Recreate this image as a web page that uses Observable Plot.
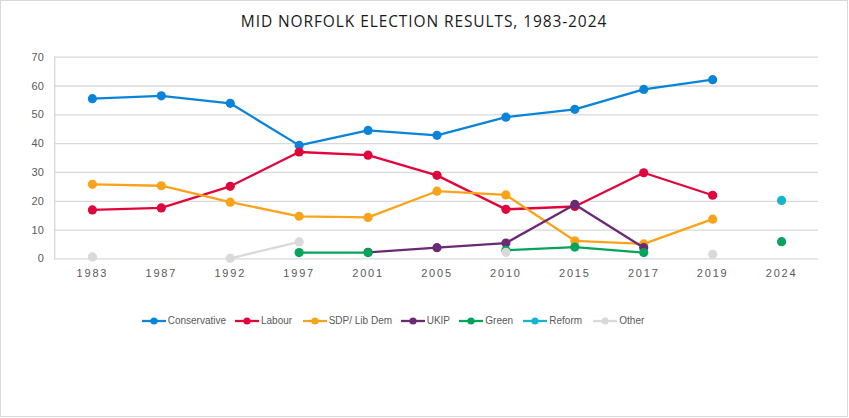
<!DOCTYPE html>
<html>
<head>
<meta charset="utf-8">
<script src="https://cdn.jsdelivr.net/npm/d3@7"></script>
<script src="https://cdn.jsdelivr.net/npm/@observablehq/plot@0.6"></script>
<style>
  body { margin: 0; background: #fff; }
  #wrap { position: relative; width: 848px; height: 417px; box-sizing: border-box; border: 1px solid #d9d9d9; background: #fff; font-family: "Liberation Sans", Arial, sans-serif; }
  #title { position: absolute; left: 0; right: 0; top: 10px; text-align: center; font-family: "Open Sans", sans-serif; font-size: 15.5px; line-height: 20px; letter-spacing: 0.9px; color: #1a1a1a; padding-left: 0; }
  #chart { position: absolute; left: 0; top: 39px; }
  #legend { position: absolute; left: 0; top: 314px; width: 846px; height: 12px; font-size: 10px; color: #595959; white-space: nowrap; }
  .item { position: absolute; top: 0; display: flex; align-items: center; gap: 2px; }
  g[aria-label="x-axis tick label"] text { letter-spacing: 1.8px; }
</style>
</head>
<body>
<div id="wrap">
  <div id="title">MID NORFOLK ELECTION RESULTS, 1983-2024</div>
  <div id="chart"></div>
  <div id="legend"></div>
</div>
<script>
const years = ["1983","1987","1992","1997","2001","2005","2010","2015","2017","2019","2024"];
const parties = ["Conservative","Labour","SDP/ Lib Dem","UKIP","Green","Reform","Other"];
const colors = ["#0A84D8","#E0063C","#F9A31B","#6A2A74","#04A45A","#17B4CE","#D9D9D9"];
const conservative = [55.6, 56.6, 54.0, 39.4, 44.6, 42.9, 49.2, 51.9, 58.8, 62.2, null];
const labour       = [17.0, 17.7, 25.2, 37.1, 36.0, 29.0, 17.2, 18.2, 29.9, 22.1, null];
const libdem       = [25.9, 25.4, 19.7, 14.8, 14.4, 23.5, 22.2, 6.3, 5.2, 13.8, null];
const ukip         = [null, null, null, null, 2.3, 3.9, 5.5, 18.9, 3.9, null, null];
const green        = [null, null, null, 2.2, 2.2, null, 3.0, 4.1, 2.2, null, 6.0];
const reform       = [null, null, null, null, null, null, null, null, null, null, 20.3];
const other        = [0.7, null, 0.2, 5.9, null, null, 2.3, null, null, 1.6, null];
const yTicks = [0, 10, 20, 30, 40, 50, 60, 70];

// legend layout (left edge of each swatch, px)
const legendLeft = [140.7, 234, 301.7, 399.7, 458.3, 522.3, 592.3];

const series = [conservative, labour, libdem, ukip, green, reform, other];
const rows = [];
series.forEach((vals, i) => vals.forEach((v, j) => rows.push({party: parties[i], year: years[j], value: v})));
const defined = rows.filter(d => d.value != null);

const plot = Plot.plot({
  width: 847,
  height: 246,
  marginLeft: 53.3,
  marginRight: 29,
  marginTop: 16.7,
  marginBottom: 27.3,
  style: { fontFamily: "'Liberation Sans', Arial, sans-serif", fontSize: "11px", color: "#595959", background: "transparent" },
  x: { type: "point", domain: years, padding: 0.5, label: null },
  y: { domain: [0, 70], label: null },
  color: { domain: parties, range: colors },
  marks: [
    Plot.ruleY(yTicks, { stroke: "#d9d9d9", strokeWidth: 1.3 }),
    Plot.frame({ anchor: "left", stroke: "#d9d9d9", strokeWidth: 1.3 }),
    Plot.axisY({ ticks: yTicks, tickSize: 0, tickPadding: 11, fill: "#595959", label: null, fontSize: 11 }),
    Plot.axisX({ tickSize: 0, tickPadding: 10, fill: "#595959", label: null, fontSize: 11 }),
    ...parties.map((p, i) => [
      Plot.line(rows.filter(d => d.party === p), { x: "year", y: "value", stroke: colors[i], strokeWidth: 2.3 }),
      Plot.dot(defined.filter(d => d.party === p), { x: "year", y: "value", r: 4.6, fill: colors[i], stroke: "none" })
    ]).flat()
  ]
});
document.getElementById("chart").appendChild(plot);

const legend = document.getElementById("legend");
parties.forEach((p, i) => {
  const item = document.createElement("div");
  item.className = "item";
  item.style.left = legendLeft[i] + "px";
  item.innerHTML = `<svg width="24" height="10"><line x1="0" x2="24" y1="5" y2="5" stroke="${colors[i]}" stroke-width="2.3"/><circle cx="12" cy="5" r="3.6" fill="${colors[i]}"/></svg><span>${p}</span>`;
  legend.appendChild(item);
});
</script>
</body>
</html>
